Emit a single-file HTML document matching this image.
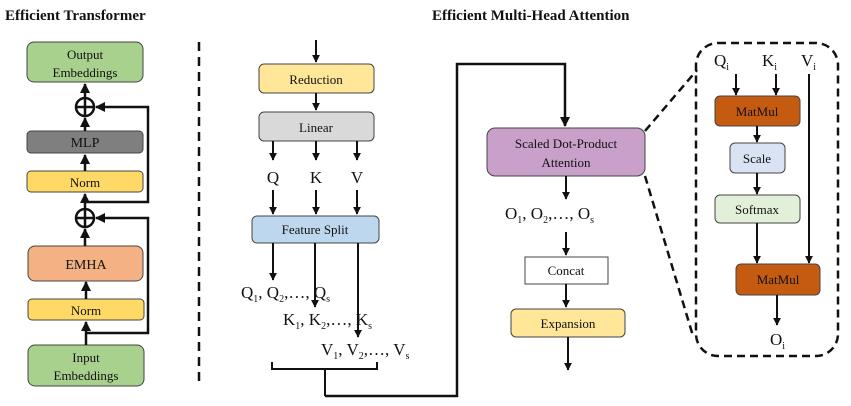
<!DOCTYPE html>
<html><head><meta charset="utf-8"><style>
html,body{margin:0;padding:0;background:#fff}
svg{display:block}
text{font-family:"Liberation Serif",serif;fill:#111}
</style></head><body>
<svg width="851" height="406" viewBox="0 0 851 406" xmlns="http://www.w3.org/2000/svg">
<defs>
<marker id="a" viewBox="0 0 10 10" refX="9" refY="5" markerWidth="4" markerHeight="4" orient="auto"><path d="M0,0L10,5L0,10z" fill="#111"/></marker>
</defs>
<g stroke="#111" stroke-width="2" fill="none">
</g>
<text x="5" y="20" font-size="15" font-weight="bold">Efficient Transformer</text>
<text x="432" y="20" font-size="15" font-weight="bold">Efficient Multi-Head Attention</text>

<!-- left column -->
<g stroke="#444" stroke-width="1">
<rect x="27" y="42" width="116" height="40" rx="7" fill="#a9d18e"/>
<rect x="27" y="131" width="116" height="22" rx="4" fill="#7f7f7f"/>
<rect x="27" y="171" width="116" height="21" rx="4" fill="#ffd966"/>
<rect x="28" y="246" width="115" height="35" rx="7" fill="#f4b183"/>
<rect x="28" y="299" width="116" height="21" rx="4" fill="#ffd966"/>
<rect x="28" y="345" width="116" height="41" rx="7" fill="#a9d18e"/>
</g>
<g font-size="13" text-anchor="middle">
<text x="85" y="59">Output</text><text x="85" y="77">Embeddings</text>
<text x="85" y="147" font-size="14">MLP</text>
<text x="85" y="187">Norm</text>
<text x="86" y="269" font-size="14">EMHA</text>
<text x="86" y="315">Norm</text>
<text x="86" y="362">Input</text><text x="86" y="380">Embeddings</text>
</g>
<g stroke="#111" stroke-width="2.5" fill="none">
<circle cx="85" cy="107" r="9"/><path d="M76,107h18M85,98v18"/>
<circle cx="85" cy="218" r="9"/><path d="M76,218h18M85,209v18"/>
<path d="M85,98V84" marker-end="url(#a)"/>
<path d="M85,131V118" marker-end="url(#a)"/>
<path d="M85,171V155" marker-end="url(#a)"/>
<path d="M85,246V229" marker-end="url(#a)"/>
<path d="M86,299V282" marker-end="url(#a)"/>
<path d="M86,345V322" marker-end="url(#a)"/>
<path d="M86,333H148V218H96" marker-end="url(#a)"/>
<path d="M85,209V194" marker-end="url(#a)"/>
<path d="M85,202H148V107H96" marker-end="url(#a)"/>
</g>
<path d="M199,42V385" stroke="#111" stroke-width="2.5" stroke-dasharray="9,6"/>

<!-- middle -->
<g stroke="#444" stroke-width="1">
<rect x="259" y="64" width="115" height="29" rx="5" fill="#ffe699"/>
<rect x="259" y="112" width="115" height="29" rx="5" fill="#d9d9d9"/>
<rect x="252" y="216" width="127" height="27" rx="5" fill="#bdd7ee"/>
<rect x="487" y="128" width="158" height="48" rx="8" fill="#c9a0c9"/>
<rect x="525" y="257" width="83" height="27" fill="#fff"/>
<rect x="511" y="309" width="114" height="28" rx="5" fill="#ffe699"/>
</g>
<g font-size="13" text-anchor="middle">
<text x="316" y="84">Reduction</text>
<text x="316" y="132">Linear</text>
<text x="315" y="234">Feature Split</text>
<text x="566" y="148">Scaled Dot-Product</text>
<text x="566" y="167">Attention</text>
<text x="566" y="275">Concat</text>
<text x="568" y="328">Expansion</text>
</g>
<g font-size="17" text-anchor="middle">
<text x="273" y="183">Q</text><text x="316" y="183">K</text><text x="357" y="183">V</text>
</g>
<g font-size="17">
<text x="241" y="298">Q<tspan font-size="10" dy="4">1</tspan><tspan dy="-4">, Q</tspan><tspan font-size="10" dy="4">2</tspan><tspan dy="-4">,…, Q</tspan><tspan font-size="10" dy="4">s</tspan></text>
<text x="283" y="325">K<tspan font-size="10" dy="4">1</tspan><tspan dy="-4">, K</tspan><tspan font-size="10" dy="4">2</tspan><tspan dy="-4">,…, K</tspan><tspan font-size="10" dy="4">s</tspan></text>
<text x="321" y="355">V<tspan font-size="10" dy="4">1</tspan><tspan dy="-4">, V</tspan><tspan font-size="10" dy="4">2</tspan><tspan dy="-4">,…, V</tspan><tspan font-size="10" dy="4">s</tspan></text>
<text x="505" y="219">O<tspan font-size="10" dy="4">1</tspan><tspan dy="-4">, O</tspan><tspan font-size="10" dy="4">2</tspan><tspan dy="-4">,…, O</tspan><tspan font-size="10" dy="4">s</tspan></text>
<text x="714" y="66">Q<tspan font-size="10" dy="4">i</tspan></text>
<text x="762" y="66">K<tspan font-size="10" dy="4">i</tspan></text>
<text x="801" y="66">V<tspan font-size="10" dy="4">i</tspan></text>
<text x="770" y="345">O<tspan font-size="10" dy="4">i</tspan></text>
</g>
<g stroke="#111" stroke-width="2" fill="none">
<path d="M316,40V62" marker-end="url(#a)"/>
<path d="M316,93V110" marker-end="url(#a)"/>
<path d="M273,141V160" marker-end="url(#a)"/><path d="M316,141V160" marker-end="url(#a)"/><path d="M357,141V160" marker-end="url(#a)"/>
<path d="M273,190V214" marker-end="url(#a)"/><path d="M316,190V214" marker-end="url(#a)"/><path d="M357,190V214" marker-end="url(#a)"/>
<path d="M273,243V280" marker-end="url(#a)"/>
<path d="M315,243V307" marker-end="url(#a)"/>
<path d="M358,243V337" marker-end="url(#a)"/>
<path d="M272,362V369H377V362M325,369V396"/>
</g>
<path d="M325,396H457V64H565V126" stroke="#111" stroke-width="2.5" fill="none" marker-end="url(#a)"/>
<g stroke="#111" stroke-width="2" fill="none">
<path d="M566,176V199" marker-end="url(#a)"/>
<path d="M566,232V255" marker-end="url(#a)"/>
<path d="M566,284V307" marker-end="url(#a)"/>
<path d="M568,337V370" marker-end="url(#a)"/>
</g>

<!-- right detail -->
<g stroke="#111" stroke-width="2.5" fill="none" stroke-dasharray="8,5">
<rect x="696" y="43" width="142" height="313" rx="22"/>
<path d="M645,131L697,70"/>
<path d="M645,176L693,336"/>
</g>
<g stroke="#444" stroke-width="1">
<rect x="715" y="96" width="85" height="30" rx="5" fill="#c55a11"/>
<rect x="730" y="143" width="55" height="30" rx="5" fill="#dae3f3"/>
<rect x="715" y="195" width="85" height="28" rx="5" fill="#e2f0d9"/>
<rect x="736" y="264" width="84" height="31" rx="5" fill="#c55a11"/>
</g>
<g font-size="13" text-anchor="middle">
<text x="757" y="116">MatMul</text>
<text x="757" y="163">Scale</text>
<text x="757" y="214">Softmax</text>
<text x="778" y="284">MatMul</text>
</g>
<g stroke="#111" stroke-width="2" fill="none">
<path d="M736,74V95" marker-end="url(#a)"/>
<path d="M776,74V95" marker-end="url(#a)"/>
<path d="M757,126V142" marker-end="url(#a)"/>
<path d="M757,173V194" marker-end="url(#a)"/>
<path d="M757,223V263" marker-end="url(#a)"/>
<path d="M809,74V263" marker-end="url(#a)"/>
<path d="M777,295V325" marker-end="url(#a)"/>
</g>
</svg>
</body></html>
